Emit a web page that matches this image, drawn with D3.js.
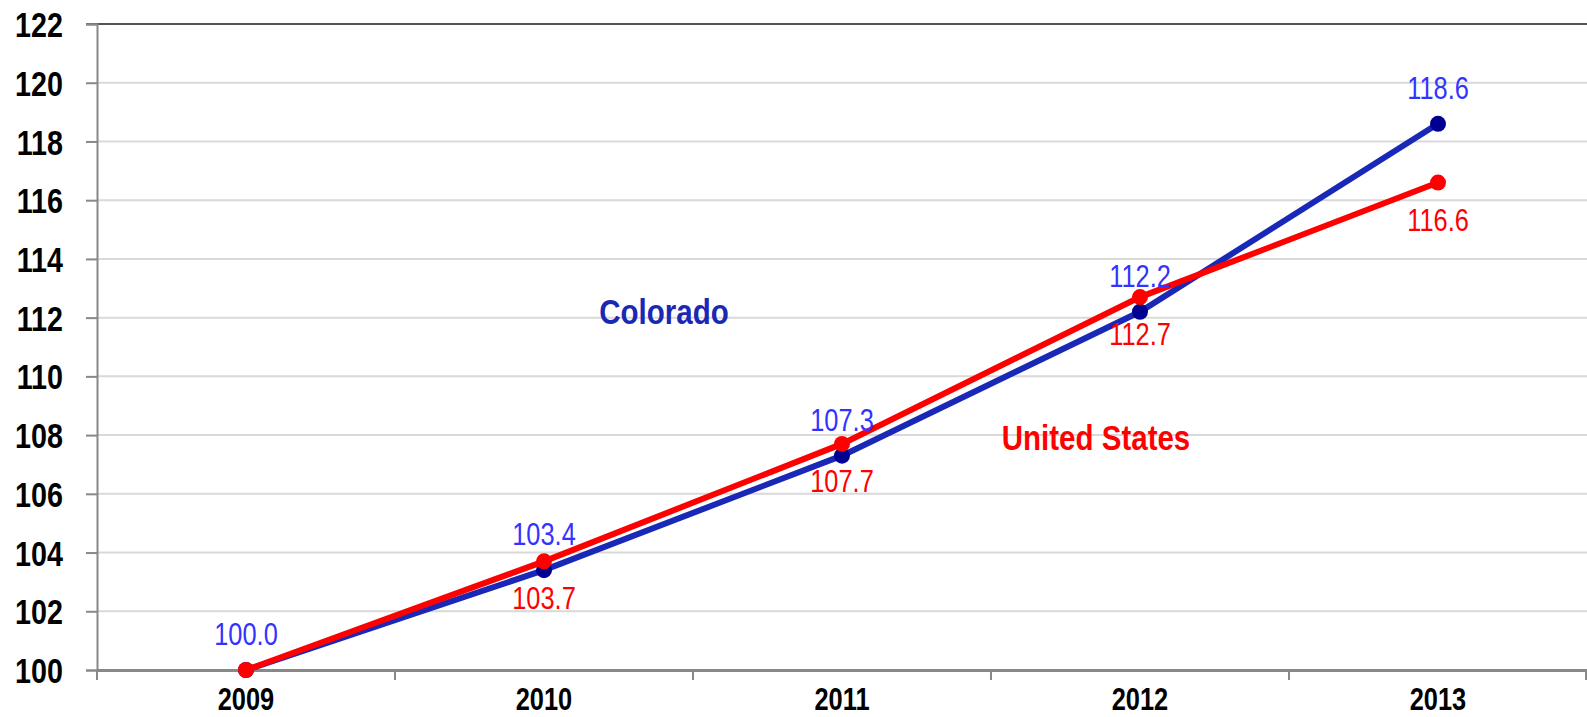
<!DOCTYPE html>
<html>
<head>
<meta charset="utf-8">
<script src="https://cdn.jsdelivr.net/npm/d3@7"></script>
<style>
  html, body { margin: 0; padding: 0; background: #ffffff; overflow: hidden; }
  svg text { font-family: "Liberation Sans", Arial, sans-serif; }
</style>
</head>
<body>
<div id="chart"></div>
<script>

// chart data
var years = ['2009', '2010', '2011', '2012', '2013'];
var colorado_values = [100.0, 103.4, 107.3, 112.2, 118.6];
var us_values = [100.0, 103.7, 107.7, 112.7, 116.6];
var colorado_labels = ['100.0', '103.4', '107.3', '112.2', '118.6'];
var us_labels = [null, '103.7', '107.7', '112.7', '116.6'];
var y_ticks = [100, 102, 104, 106, 108, 110, 112, 114, 116, 118, 120, 122];

/**
 * line chart container
 */
var app_index_chart = (function () {

  var width = 1587, height = 717;
  var margin = { top: 24, right: 0, bottom: 47, left: 97 };
  var narrow = 0.82;  // horizontal squeeze, stands in for a narrow face

  var svg, x, y;

  function initChart() {
    svg = d3.select('#chart').append('svg')
      .attr('width', width)
      .attr('height', height)
      .style('display', 'block');

    x = d3.scaleBand()
      .domain(years)
      .range([margin.left, width - margin.right]);

    y = d3.scaleLinear()
      .domain([100, 122])
      .range([height - margin.bottom, margin.top]);
  }

  function squeeze(sel, px, py) {
    sel.attr('x', null).attr('y', null)
      .attr('transform', 'translate(' + px + ',' + py + ') scale(' + narrow + ',1)');
  }

  function drawAxes() {
    // horizontal grid lines
    svg.append('g')
      .selectAll('line')
      .data(y_ticks.slice(1, -1))
      .enter()
      .append('line')
      .attr('x1', margin.left)
      .attr('x2', width)
      .attr('y1', function(d) { return y(d); })
      .attr('y2', function(d) { return y(d); })
      .attr('stroke', '#d9d9d9')
      .attr('stroke-width', 2);

    // top border
    svg.append('line')
      .attr('x1', margin.left - 11).attr('x2', width)
      .attr('y1', y(122)).attr('y2', y(122))
      .attr('stroke', '#555555').attr('stroke-width', 2);

    var yAxis = svg.append('g')
      .attr('transform', 'translate(' + margin.left + ',0)')
      .call(d3.axisLeft(y).tickValues(y_ticks).tickSize(11).tickFormat(d3.format('d')));

    yAxis.select('.domain').attr('stroke', '#888888').attr('stroke-width', 2);
    yAxis.selectAll('.tick line').attr('stroke', '#888888').attr('stroke-width', 2);
    yAxis.selectAll('.tick text')
      .attr('font-size', 35)
      .attr('font-weight', 'bold')
      .attr('fill', '#000000')
      .attr('dy', '0.36em')
      .call(squeeze, -34, 0);

    var xAxis = svg.append('g')
      .attr('transform', 'translate(0,' + y(100) + ')')
      .call(d3.axisBottom(x).tickSize(0));

    xAxis.select('.domain').attr('stroke', '#888888').attr('stroke-width', 3);
    xAxis.selectAll('.tick text')
      .attr('font-size', 31)
      .attr('font-weight', 'bold')
      .attr('fill', '#000000')
      .attr('dy', '0.71em')
      .call(squeeze, 0, 18);

    // category boundary ticks
    var bounds = years.map(function(d) { return x(d); }).concat([width - 1]);
    svg.append('g')
      .selectAll('line')
      .data(bounds)
      .enter()
      .append('line')
      .attr('x1', function(d) { return d; })
      .attr('x2', function(d) { return d; })
      .attr('y1', y(100))
      .attr('y2', y(100) + 10)
      .attr('stroke', '#888888')
      .attr('stroke-width', 2);
  }

  function centerX(year) {
    return x(year) + x.bandwidth() / 2;
  }

  function drawSeries(values, line_color, dot_color, width_px) {
    var line = d3.line()
      .x(function(d, i) { return centerX(years[i]); })
      .y(function(d) { return y(d); });

    svg.append('path')
      .datum(values)
      .attr('d', line)
      .attr('fill', 'none')
      .attr('stroke', line_color)
      .attr('stroke-width', width_px);

    svg.append('g')
      .selectAll('circle')
      .data(values)
      .enter()
      .append('circle')
      .attr('cx', function(d, i) { return centerX(years[i]); })
      .attr('cy', function(d) { return y(d); })
      .attr('r', 8)
      .attr('fill', dot_color);
  }

  function drawLabels(values, labels, color, offset) {
    var rows = [];
    values.forEach(function(v, i) {
      if (labels[i] !== null) {
        rows.push({ year: years[i], value: v, label: labels[i] });
      }
    });

    svg.append('g')
      .selectAll('text')
      .data(rows)
      .enter()
      .append('text')
      .attr('text-anchor', 'middle')
      .attr('font-size', 31)
      .attr('fill', color)
      .text(function(d) { return d.label; })
      .each(function(d) {
        d3.select(this).call(squeeze, centerX(d.year), y(d.value) + offset);
      });
  }

  function drawSeriesNames() {
    svg.append('text')
      .attr('text-anchor', 'middle')
      .attr('font-size', 36).attr('font-weight', 'bold')
      .attr('fill', '#1a28b4')
      .text('Colorado')
      .call(squeeze, 664, 324);

    svg.append('text')
      .attr('text-anchor', 'middle')
      .attr('font-size', 36).attr('font-weight', 'bold')
      .attr('fill', '#ff0000')
      .text('United States')
      .call(squeeze, 1096, 450);
  }

  function render() {
    initChart();
    drawAxes();
    drawSeries(colorado_values, '#1a28b8', '#000090', 6);
    drawSeries(us_values, '#ff0000', '#ff0000', 6);
    drawLabels(colorado_values, colorado_labels, '#3333ff', -25);
    drawLabels(us_values, us_labels, '#ff0000', 48);
    drawSeriesNames();
  }

  return {
    'render' : render
  }

}());

app_index_chart.render();

</script>
</body>
</html>
